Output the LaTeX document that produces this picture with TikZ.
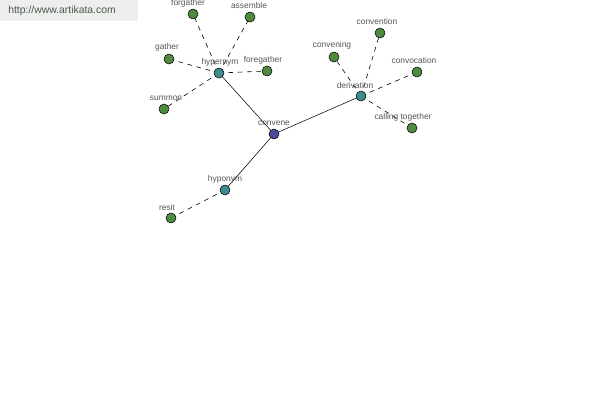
\documentclass[tikz,border=0pt]{standalone}
\usepackage{fontspec}
\setmainfont{Liberation Sans}
\definecolor{leafc}{HTML}{4E8A40}
\definecolor{midc}{HTML}{3E8C8E}
\definecolor{rootc}{HTML}{4A4A98}
\definecolor{lblc}{HTML}{555555}
\definecolor{wmbg}{HTML}{EEEEEE}
\definecolor{wmtx}{HTML}{4A5A4A}
\begin{document}
\begin{tikzpicture}[x=0.75pt,y=-0.75pt,
  dot/.style={circle,draw=black,line width=0.4pt,inner sep=0pt,minimum size=7.5pt},
  leaf/.style={dot,fill=leafc},
  mid/.style={dot,fill=midc},
  root/.style={dot,fill=rootc},
  lbl/.style={text=lblc,font=\fontsize{6.3}{7}\selectfont,inner sep=0pt},
  solidl/.style={draw=black,line width=0.4pt},
  dashl/.style={draw=black,line width=0.45pt,dash pattern=on 3.5pt off 3.5pt}]
\useasboundingbox (0,0) rectangle (600,400);
\fill[wmbg] (0,0) rectangle (138,21);
\node[text=wmtx,font=\fontsize{7.8}{9}\selectfont,anchor=west,inner sep=0pt] (wm) at (8,11) {http://www.artikata.com};
% coordinates
\coordinate (pconvene) at (274,134);
\coordinate (phypernym) at (219,73);
\coordinate (phyponym) at (225,190);
\coordinate (pderivation) at (361,96);
\coordinate (pforgather) at (193,14);
\coordinate (passemble) at (250,17);
\coordinate (pgather) at (169,59);
\coordinate (pforegather) at (267,71);
\coordinate (psummon) at (164,109);
\coordinate (presit) at (171,218);
\coordinate (pconvention) at (380,33);
\coordinate (pconvening) at (334,57);
\coordinate (pconvocation) at (417,72);
\coordinate (pcalling) at (412,128);
% edges
\draw[solidl] (pconvene) -- (phypernym);
\draw[solidl] (pconvene) -- (phyponym);
\draw[solidl] (pconvene) -- (pderivation);
\draw[dashl] (phypernym) -- (pforgather);
\draw[dashl] (phypernym) -- (passemble);
\draw[dashl] (phypernym) -- (pgather);
\draw[dashl] (phypernym) -- (pforegather);
\draw[dashl] (phypernym) -- (psummon);
\draw[dashl] (phyponym) -- (presit);
\draw[dashl] (pderivation) -- (pconvention);
\draw[dashl] (pderivation) -- (pconvening);
\draw[dashl] (pderivation) -- (pconvocation);
\draw[dashl] (pderivation) -- (pcalling);
% nodes
\node[root] (convene) at (pconvene) {};
\node[mid] (hypernym) at (phypernym) {};
\node[mid] (hyponym) at (phyponym) {};
\node[mid] (derivation) at (pderivation) {};
\node[leaf] (forgather) at (pforgather) {};
\node[leaf] (assemble) at (passemble) {};
\node[leaf] (gather) at (pgather) {};
\node[leaf] (foregather) at (pforegather) {};
\node[leaf] (summon) at (psummon) {};
\node[leaf] (resit) at (presit) {};
\node[leaf] (convention) at (pconvention) {};
\node[leaf] (convening) at (pconvening) {};
\node[leaf] (convocation) at (pconvocation) {};
\node[leaf] (calling) at (pcalling) {};
% labels
\node[lbl] (lconvene) at (274,123) {convene};
\node[lbl] (lhypernym) at (220,62) {hypernym};
\node[lbl] (lhyponym) at (225,179) {hyponym};
\node[lbl] (lderivation) at (355,85) {derivation};
\node[lbl] (lforgather) at (188,3) {forgather};
\node[lbl] (lassemble) at (249,5) {assemble};
\node[lbl] (lgather) at (167,47) {gather};
\node[lbl] (lforegather) at (263,60) {foregather};
\node[lbl] (lsummon) at (166,98) {summon};
\node[lbl] (lresit) at (167,207) {resit};
\node[lbl] (lconvention) at (377,21) {convention};
\node[lbl] (lconvening) at (332,45) {convening};
\node[lbl] (lconvocation) at (414,60) {convocation};
\node[lbl] (lcalling) at (403,117) {calling together};
\end{tikzpicture}
\end{document}
